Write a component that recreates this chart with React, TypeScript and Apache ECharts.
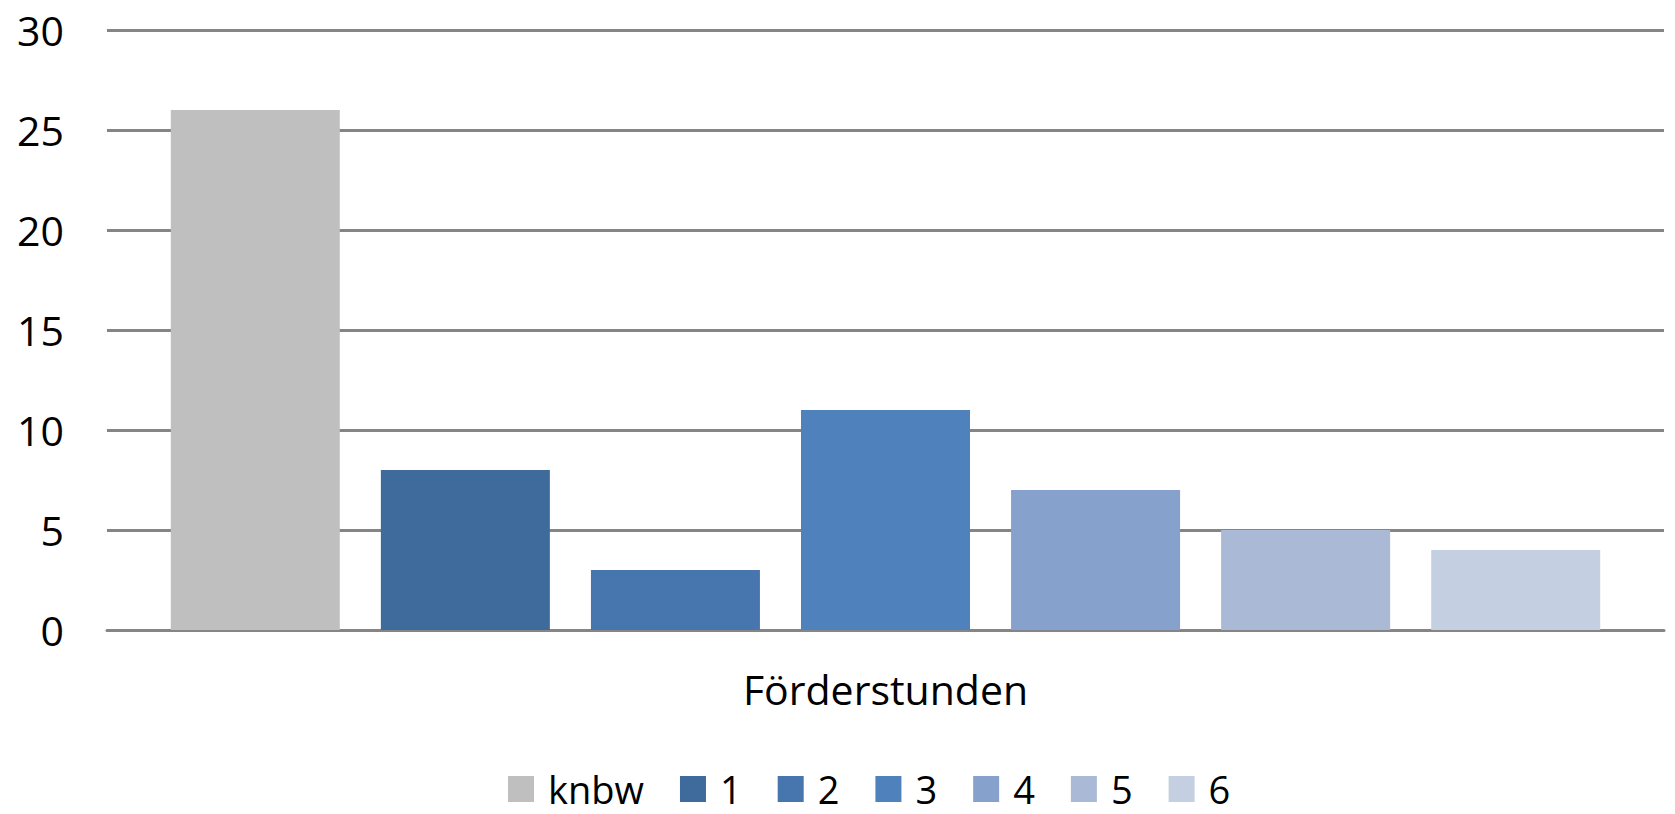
import React, { useEffect, useRef } from "react";
import * as echarts from "echarts";

const categories = ["Förderstunden"];
const seriesNames = ["knbw", "1", "2", "3", "4", "5", "6"];
const seriesValues = [26, 8, 3, 11, 7, 5, 4];
const seriesColors = ["#BFBFBF", "#3F6A9C", "#4775AD", "#4F81BD", "#86A1CB", "#AAB9D6", "#C4CFE1"];
const yTicks = { min: 0, max: 30, interval: 5 };

const FONT = "'Open Sans', 'Noto Sans', sans-serif";

export default function App() {
  const ref = useRef<HTMLDivElement>(null);
  useEffect(() => {
    if (!ref.current) return;
    const chart = echarts.init(ref.current, null, { renderer: "svg" });
    chart.setOption({
      animation: false,
      backgroundColor: "#ffffff",
      textStyle: { fontFamily: FONT },
      grid: { left: 107, right: 11, top: 30, bottom: 184, containLabel: false },
      xAxis: {
        type: "category",
        data: categories,
        axisLine: { show: true, lineStyle: { color: "#858585", width: 3 } },
        axisTick: { show: false },
        axisLabel: { color: "#000", fontSize: 41, fontFamily: FONT, margin: 38 },
      },
      yAxis: {
        type: "value",
        min: yTicks.min,
        max: yTicks.max,
        interval: yTicks.interval,
        axisLine: { show: false },
        axisTick: { show: false },
        axisLabel: { color: "#000", fontSize: 41, fontFamily: FONT, margin: 43 },
        splitLine: { show: true, lineStyle: { color: "#858585", width: 3 } },
      },
      legend: {
        show: true,
        left: 508,
        top: 770,
        padding: 0,
        icon: "rect",
        itemWidth: 26,
        itemHeight: 26,
        itemGap: 36,
        data: seriesNames,
        textStyle: { color: "#000", fontSize: 38, lineHeight: 38, fontFamily: FONT, padding: [0, 0, 0, 9] },
      },
      series: seriesNames.map((name, i) => ({
        name,
        type: "bar",
        data: [seriesValues[i]],
        barWidth: 169,
        barGap: "24.3%",
        itemStyle: { color: seriesColors[i] },
      })),
    });
    return () => chart.dispose();
  }, []);
  return (
    <div
      ref={ref}
      style={{ position: "fixed", left: 0, top: 0, width: 1675, height: 814, background: "#fff" }}
    />
  );
}
